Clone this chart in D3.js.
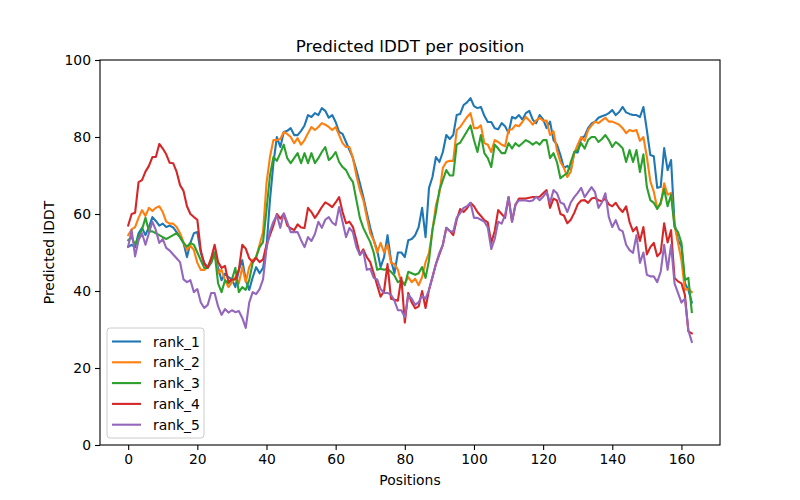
<!DOCTYPE html>
<html>
<head>
<meta charset="utf-8">
<script src="https://cdn.jsdelivr.net/npm/d3@7"></script>
<style>
  body { margin: 0; background: #fff; }
  svg { font-family: "DejaVu Sans", sans-serif; }
</style>
</head>
<body>
<svg id="drawing_region" width="800" height="500"></svg>
<script>
// predicted lDDT per residue
var rank_1 = [51.5,52,51.4,55,56.4,54.5,56.6,59.2,58.2,57,57.5,56.6,57,56.5,55.3,54,52.5,48.8,52.5,55,
  55.3,49.9,47.3,46.2,47.3,50,46,42.8,44.5,43.6,43,41,45.5,48,42.8,40.3,43.5,46.2,44.6,46,
  51.4,63.6,73.2,80,77.4,81.3,81.6,82.3,80.5,80.5,81.6,83,85.7,85.2,86.2,85.7,87.5,86.8,85,85.7,
  83.9,81.3,80.8,78.7,76.6,74.5,71.4,68,64.4,60.3,56.4,53.2,50.6,46.2,48.8,54.5,48,44.6,50,50,
  48.8,53.2,53.5,54.5,56.6,61.6,54,66.8,69.6,74.8,73.5,76.1,80.5,79.5,80.5,85.7,86,88.3,89,90.1,
  88,87.5,87.8,85.5,83.9,83.9,82.3,82,83.6,82.8,81,85.2,84.8,85.7,84.5,86.2,86.8,84.5,83.6,85.7,
  84.6,82.3,84,79.2,78,75.3,72,72.5,71.4,76,76,79.7,80.2,82.3,83.5,84,85,85.4,85.7,86.2,
  87,85.7,86.5,87.8,86.4,86,85.7,85.7,85.2,87.8,81.8,75.3,75,66.8,67,77.1,71.4,74,57.6,53.2,
  51.6,42,40.3,37];
var rank_2 = [54.5,56,56.6,59,61,59.5,61.6,60.8,61.6,62,60.5,58,57.5,57.5,56.6,55,52.7,50.6,51.8,50.6,
  47.3,45.5,45.5,46.2,48.5,49.9,44.6,45.5,42.8,41,42.3,43.6,42,46.2,42.3,46.2,48,48.8,52,55.3,
  68,74.8,79.2,79.2,79.5,81.3,80.8,80,78.4,79.7,78,79.2,81,82.6,81.8,82.6,83.6,83.2,82.6,81.8,
  82.6,80.5,78.4,77.4,77.4,74.5,70,66.2,63.6,59.2,55,53.2,50,52.5,50,52,47.3,47,45.5,42,
  42,43.6,42.3,43.2,41.5,43.6,47.5,49.9,55.8,62.3,65.4,72,73.5,73.8,73.8,81.8,82.6,83.9,85.2,86.2,
  82.3,82.3,83,78.4,78,76.1,79.2,78.7,78,77.6,81.8,82,83.1,82.8,83.9,85.2,84.3,83.2,84.3,85,
  84.2,84.3,80.5,81.5,76.6,73.5,72,69.6,71,75.8,78,80,79,81.8,83,84,83.6,84.3,85,84,
  84,83.6,83.2,82.3,81,81.8,81.5,81.8,79,80,74.8,68.5,65.8,61.5,62.5,68,65,65.5,57.1,52.5,
  48,40.3,40.5,39.7];
var rank_3 = [53.2,54,52,54,56,59,55.5,55.5,55,54.5,54,53.5,54,54.5,55,54,52.5,51.5,52.5,52,
  50,48,46,46,47.5,50,42,39.7,42.8,42,43,46,39.7,41,40.3,42.8,47.3,48.8,51.4,52.7,
  61,70,74.8,73.8,75.8,78,74.5,73.2,74.5,75.8,73.2,75.8,73.2,75.8,73.2,74.5,76.1,77.4,74,74.8,
  76.1,73.5,72.2,71.4,69.6,68.3,63.6,59,56.4,54.5,52.7,50,45.5,45.8,45.5,45.8,45,44,42.3,42.8,
  41.5,45,44.6,44.2,44.6,46.2,43.4,48,56,60.5,66.2,68.8,71.4,70,70,78,78.5,80,81.5,83,
  79.2,76.1,80.5,75.8,74.5,72.2,78,77,75.8,75.8,78.4,77,78.4,77.6,78.4,79.2,78.7,78,78.7,78,
  79.2,79.2,74.5,75.8,73.5,69.3,70,70.6,73.5,76.1,76.6,78.4,77,79.2,80,80,78.7,79.5,80.5,79.2,
  77.4,78.7,78,77.1,73.5,76.6,73.5,76.6,70.9,75.5,67,63.6,62.9,61.3,63,66.5,62,65,56.6,55.3,
  52.5,42.8,43.4,34.5];
var rank_4 = [57,60,60.3,68.3,68.8,71,72.5,74.8,74.8,78.2,77,75.5,73.3,73.2,71,67.5,66,62,60,59.2,
  58.5,50.5,47,46,48.5,52,47.5,46,46.5,42.3,43,43,45.5,52,51,48.5,47.5,48.6,47.5,48.2,
  52,54.5,57,60,58.8,60,57,56.3,55.8,57.3,56.5,56.4,61.6,60.5,59,60.3,61.8,63,62.5,61.8,
  63,64.4,60.5,57.6,58,56.6,53.2,49.4,50.8,48.8,47.5,44.6,41.5,38.5,40,47,38,37.7,37.5,43.5,
  31.8,39.5,37,35.5,36,40,35.6,40.3,43.6,47,49.5,52,56.4,55.6,54.5,58.5,61.3,60.5,61.5,62.9,
  62,60.5,59.5,58.4,57.8,52.5,55.6,61,60,59,64.4,58,62.3,64,64,64,64.2,64.4,64.4,64.5,
  65.4,66.2,61.6,64,63.5,60,59.6,57.6,58.5,60.3,62.5,63.5,63.6,62.9,64,64.2,63.6,63.3,64,62.5,
  62,62.9,61.5,60.5,62,57.9,55.5,56.6,53,56.6,49.5,51.4,52.5,49,50,57.6,52.6,55.8,43.4,42.5,
  42,39,29.5,29];
var rank_5 = [51.5,55.8,49,53.2,55,52,55,58,55.8,52.5,53.5,51.2,50.5,49.5,48.5,47.5,43,42.3,42.8,39.7,
  40.5,37,35.6,36.4,39.5,39.5,36,33.8,35.3,34.4,35,34.5,34.8,33,30.4,37,39.7,39.2,40.5,43,
  51,55.5,58,59.7,56.4,60.2,57.8,55.3,55.3,55.3,53.2,51.4,54,53,54.8,58,56.4,58.5,59.2,57.8,
  57.1,61.8,58,54,56.4,55.2,51.4,49.4,50.4,45.5,45.8,43.4,43,40.5,39.5,39.5,39,37.5,35,35,
  33.2,39,38,36.4,37.1,38.8,38,40.3,43.6,47,49.9,52,56.4,55.6,55.3,59,60.2,61.6,62,62.9,
  59,59,58.5,58,56.5,50.9,53.5,58,57.5,59.7,64.4,58,62.6,63.5,63.5,63.5,63.3,63.5,64.5,63.6,
  64.5,65.7,62.9,66.2,65.4,63,62.6,60.5,63,64.4,65.5,66.8,64.4,65.7,67,65.7,61.6,63,65.4,59.2,
  56.6,58.4,56,55.5,52,50.6,49.9,54.5,47.3,50,44.2,43.8,43.8,42.3,45,52,45.5,52,42,39.5,
  37,38,29.8,26.8];

var series_names = ["rank_1", "rank_2", "rank_3", "rank_4", "rank_5"];
var series_values = [rank_1, rank_2, rank_3, rank_4, rank_5];
var colors = ["#1f77b4", "#ff7f0e", "#2ca02c", "#d62728", "#9467bd"];
var x_ticks = [0, 20, 40, 60, 80, 100, 120, 140, 160];
var y_ticks = [0, 20, 40, 60, 80, 100];

var width = 800;
var height = 500;
var margin = { top: 60, right: 80, bottom: 55, left: 100 };
const inner_width = width - margin.left - margin.right;
const inner_height = height - margin.top - margin.bottom;

var svg = d3.select('#drawing_region');
var chart = svg.append('g')
    .attr('transform', `translate(${margin.left}, ${margin.top})`);

// matplotlib pads the x range by 5% on each side
const n = rank_1.length;
const pad = (n - 1) * 0.05;
const xscale = d3.scaleLinear()
    .domain([-pad, n - 1 + pad])
    .range([0, inner_width]);
const yscale = d3.scaleLinear()
    .domain([0, 100])
    .range([inner_height, 0]);

const xaxis = d3.axisBottom(xscale).tickValues(x_ticks).tickSize(5).tickPadding(4).tickSizeOuter(0);
const yaxis = d3.axisLeft(yscale).tickValues(y_ticks).tickSize(5).tickPadding(4).tickSizeOuter(0);

const xaxis_group = chart.append('g')
    .attr('transform', `translate(0, ${inner_height})`)
    .call(xaxis);
const yaxis_group = chart.append('g')
    .call(yaxis);

[xaxis_group, yaxis_group].forEach(g => {
    g.select('.domain').remove();
    g.selectAll('line').attr('stroke', '#000').attr('stroke-width', 1.1);
    g.selectAll('text').attr('font-size', '13.9px').attr('fill', '#000')
        .attr('font-family', '"DejaVu Sans", sans-serif');
});

// lines
const line = d3.line()
    .x((d, i) => xscale(i))
    .y(d => yscale(d));

chart.selectAll('path.series')
    .data(series_values)
    .join('path')
    .attr('class', 'series')
    .attr('d', d => line(d))
    .attr('fill', 'none')
    .attr('stroke', (d, i) => colors[i])
    .attr('stroke-width', 2.1)
    .attr('stroke-linejoin', 'round')
    .attr('stroke-linecap', 'square');

// frame
chart.append('rect')
    .attr('x', 0).attr('y', 0)
    .attr('width', inner_width).attr('height', inner_height)
    .attr('fill', 'none').attr('stroke', '#000').attr('stroke-width', 1.1);

// titles
svg.append('text')
    .attr('x', margin.left + inner_width / 2).attr('y', 52)
    .attr('text-anchor', 'middle').attr('font-size', '16.7px')
    .text('Predicted lDDT per position');
svg.append('text')
    .attr('x', margin.left + inner_width / 2).attr('y', 485)
    .attr('text-anchor', 'middle').attr('font-size', '13.9px')
    .text('Positions');
svg.append('text')
    .attr('transform', `translate(54, ${margin.top + inner_height / 2}) rotate(-90)`)
    .attr('text-anchor', 'middle').attr('font-size', '13.9px')
    .text('Predicted lDDT');

// legend
var legend = chart.append('g')
    .attr('transform', `translate(7, ${inner_height - 117})`);
legend.append('rect')
    .attr('x', 0).attr('y', 0).attr('width', 97).attr('height', 110)
    .attr('rx', 3)
    .attr('fill', '#fff').attr('fill-opacity', 0.8)
    .attr('stroke', '#ccc').attr('stroke-width', 1);
var items = legend.selectAll('g.item')
    .data(series_names)
    .join('g')
    .attr('class', 'item')
    .attr('transform', (d, i) => `translate(0, ${13.5 + i * 20.8})`);
items.append('line')
    .attr('x1', 5).attr('x2', 34)
    .attr('stroke', (d, i) => colors[i]).attr('stroke-width', 2.1);
items.append('text')
    .attr('x', 46).attr('y', 5)
    .attr('font-size', '13.9px')
    .text(d => d);
</script>
</body>
</html>
